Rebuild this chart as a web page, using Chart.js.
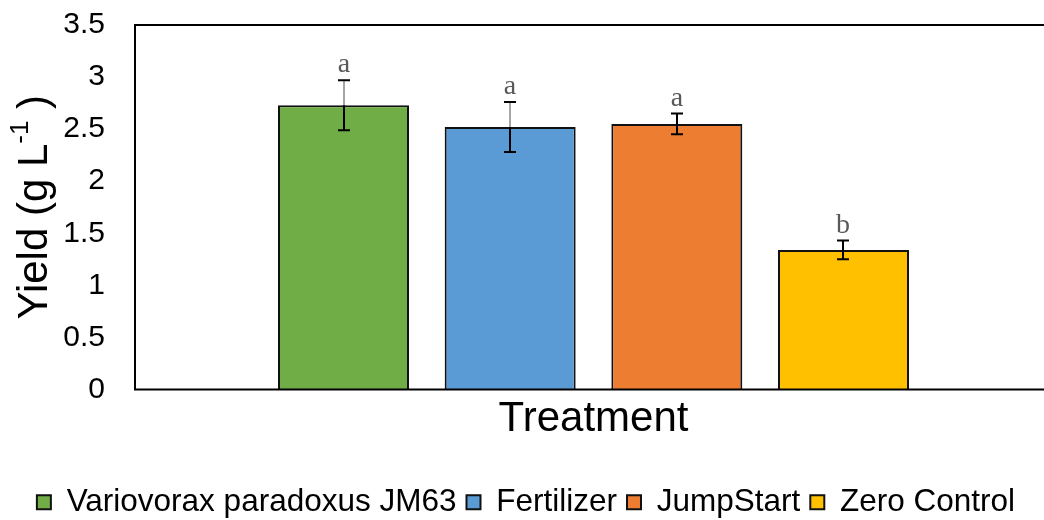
<!DOCTYPE html>
<html>
<head>
<meta charset="utf-8">
<script src="https://cdn.jsdelivr.net/npm/chart.js@4/dist/chart.umd.min.js"></script>
<style>
  html, body { margin: 0; padding: 0; background: #fff; overflow: hidden; }
  #wrap { width: 1062px; height: 520px; }
</style>
</head>
<body>
<div id="wrap"><canvas id="grafico"></canvas></div>
<script>
// datos
const category = ["Treatment"];
const treatments = ["Variovorax paradoxus JM63", "Fertilizer", "JumpStart", "Zero Control"];
const yieldMean = [2.73, 2.52, 2.55, 1.34];
const yieldErr = [0.24, 0.24, 0.10, 0.09];
const letters = ["a", "a", "a", "b"];
const yTicks = [0, 0.5, 1, 1.5, 2, 2.5, 3, 3.5];

const colors = ["#70AD47", "#5B9BD5", "#ED7D31", "#FFC000"];
const stemTop = ["#a6a6a6", "#a6a6a6", "#000000", "#000000"]; // parte superior gris como en Excel
const FONT = "'Liberation Sans', Arial, sans-serif";

// barras de error + letras de significancia
const errorBars = {
  id: "errorBars",
  afterDatasetsDraw(chart) {
    const ctx = chart.ctx;
    const y = chart.scales.y;
    ctx.save();
    chart.data.datasets.forEach((ds, i) => {
      const bar = chart.getDatasetMeta(i).data[0];
      const x = Math.round(bar.x);
      const yMid = y.getPixelForValue(yieldMean[i]);
      const yHi = y.getPixelForValue(yieldMean[i] + yieldErr[i]);
      const yLo = y.getPixelForValue(yieldMean[i] - yieldErr[i]);
      ctx.lineWidth = 2;
      ctx.strokeStyle = stemTop[i];
      ctx.beginPath(); ctx.moveTo(x, yHi); ctx.lineTo(x, yMid); ctx.stroke();
      ctx.strokeStyle = "#000";
      ctx.beginPath(); ctx.moveTo(x, yMid); ctx.lineTo(x, yLo); ctx.stroke();
      ctx.beginPath();
      ctx.moveTo(x - 6, yHi); ctx.lineTo(x + 6, yHi);
      ctx.moveTo(x - 6, yLo); ctx.lineTo(x + 6, yLo);
      ctx.stroke();
      ctx.fillStyle = "#595959";
      ctx.font = "28px 'Liberation Serif', 'DejaVu Serif', serif";
      ctx.textAlign = "center";
      ctx.textBaseline = "alphabetic";
      ctx.fillText(letters[i], x, yHi - 8);
    });
    ctx.restore();
  }
};

// marco del area de trazado y titulo del eje Y con superindice
const frame = {
  id: "frame",
  afterDraw(chart) {
    const ctx = chart.ctx;
    const a = chart.chartArea;
    ctx.save();
    ctx.strokeStyle = "#000";
    ctx.lineWidth = 2;
    ctx.beginPath();
    ctx.moveTo(a.right + 20, a.top); ctx.lineTo(a.left, a.top);
    ctx.lineTo(a.left, a.bottom); ctx.lineTo(a.right + 20, a.bottom);
    ctx.stroke();

    ctx.translate(35, (a.top + a.bottom) / 2);
    ctx.rotate(-Math.PI / 2);
    ctx.fillStyle = "#000";
    ctx.textBaseline = "middle";
    const big = "42px " + FONT;
    const sup = "26px " + FONT;
    const p1 = "Yield (g L", p2 = "-1", p3 = " )";
    ctx.font = big; const w1 = ctx.measureText(p1).width; const w3 = ctx.measureText(p3).width;
    ctx.font = sup; const w2 = ctx.measureText(p2).width;
    let x0 = -(w1 + w2 + w3) / 2;
    ctx.textAlign = "left";
    ctx.font = big; ctx.fillText(p1, x0, 0);
    ctx.font = sup; ctx.fillText(p2, x0 + w1, -14);
    ctx.font = big; ctx.fillText(p3, x0 + w1 + w2, 0);
    ctx.restore();
  }
};

new Chart(document.getElementById("grafico"), {
  type: "bar",
  data: {
    labels: category,
    datasets: treatments.map((t, i) => ({
      label: t,
      data: [yieldMean[i]],
      backgroundColor: colors[i],
      borderColor: "#111",
      borderWidth: 2,
      categoryPercentage: 0.727,
      barPercentage: 0.786
    }))
  },
  options: {
    responsive: true,
    maintainAspectRatio: false,
    animation: false,
    layout: { padding: { top: 25, right: 10, left: 0, bottom: -8 } },
    plugins: {
      tooltip: { enabled: false },
      legend: {
        position: "bottom",
        labels: {
          color: "#000",
          font: { family: FONT, size: 31.5 },
          boxWidth: 14,
          boxHeight: 14,
          padding: 10
        }
      }
    },
    scales: {
      x: {
        grid: { display: false, drawTicks: false },
        border: { display: false },
        ticks: { display: false },
        title: {
          display: true,
          text: "Treatment",
          color: "#000",
          font: { family: FONT, size: 42 },
          padding: { top: 0, bottom: 32 }
        },
        afterFit(scale) { scale.height = 87; }
      },
      y: {
        min: 0,
        max: 3.5,
        grid: { display: false, drawTicks: false },
        border: { display: false },
        afterBuildTicks(scale) { scale.ticks = yTicks.map(v => ({ value: v })); },
        ticks: {
          color: "#000",
          padding: 30,
          font: { family: FONT, size: 30 },
          callback: v => String(v)
        },
        afterFit(scale) {
          scale.width = 135;
          scale.paddingTop = 0;
          scale.paddingBottom = 0;
        }
      }
    }
  },
  plugins: [errorBars, frame]
});
</script>
</body>
</html>
